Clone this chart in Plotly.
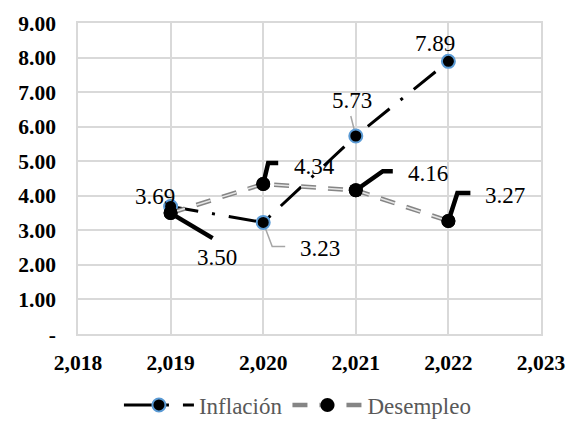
import plotly.graph_objects as go

# Series
years = [2019, 2020, 2021, 2022]
inflacion = [3.69, 3.23, 5.73, 7.89]
desempleo = [3.50, 4.34, 4.16, 3.27]

# Axis ticks
x_ticks = [2018, 2019, 2020, 2021, 2022, 2023]
y_ticks = [0, 1, 2, 3, 4, 5, 6, 7, 8, 9]
y_ticktext = ["-", "1.00", "2.00", "3.00", "4.00", "5.00", "6.00", "7.00", "8.00", "9.00"]

W, H = 572, 421
M = dict(l=78, r=31, t=23, b=87)
X_RANGE = [2018, 2023]
Y_RANGE = [0, 9]
px_x = (W - M["l"] - M["r"]) / (X_RANGE[1] - X_RANGE[0])
px_y = (H - M["t"] - M["b"]) / (Y_RANGE[1] - Y_RANGE[0])

SERIF = "'Times New Roman', 'Liberation Serif', serif"
GRID = "#D9D9D9"

# Label placement (pixel offsets from each point): (xshift, yshift)
inf_label_off = [(-16, 10), (57, -26), (-4, 36), (-13, 18)]
des_label_off = [(46, -44), (51, 18), (72, 17), (57, 26)]

# Leader line vertices (pixel offsets from each point, y downward); None = no leader
inf_leaders = [None, [(9, 24), (22, 24)], [(-5, -20)], None]
des_leaders = [[(42, 25)], [(5, -21), (15, -21)], [(27, -19), (37, -19)], [(9, -28), (22, -28)]]


def leader_xy(x0, y0, pts):
    xs, ys = [x0], [y0]
    for dx, dy in pts:
        xs.append(x0 + dx / px_x)
        ys.append(y0 - dy / px_y)
    return xs, ys


fig = go.Figure()

# Leader lines
for xv, yv, pts in zip(years, inflacion, inf_leaders):
    if pts:
        lx, ly = leader_xy(xv, yv, pts)
        fig.add_trace(go.Scatter(x=lx, y=ly, mode="lines", showlegend=False, hoverinfo="skip",
                                 line=dict(color="#A6A6A6", width=1.5)))
for xv, yv, pts in zip(years, desempleo, des_leaders):
    if pts:
        lx, ly = leader_xy(xv, yv, pts)
        fig.add_trace(go.Scatter(x=lx, y=ly, mode="lines", showlegend=False, hoverinfo="skip",
                                 line=dict(color="black", width=4.5)))

# Inflación
fig.add_trace(go.Scatter(
    x=years, y=inflacion, name="Inflación", mode="lines+markers",
    line=dict(color="black", width=3, dash="28px,14px,3px,14px"),
    marker=dict(size=13, color="black", line=dict(color="#5B9BD5", width=2)),
))

# Desempleo: gray compound dashed line with black markers
fig.add_trace(go.Scatter(
    x=years, y=desempleo, name="Desempleo", mode="lines+markers",
    line=dict(color="#858585", width=4.5, dash="15px,12px"),
    marker=dict(size=14, color="black"),
))
fig.add_trace(go.Scatter(
    x=years, y=desempleo, mode="lines", showlegend=False, hoverinfo="skip",
    line=dict(color="#E6E6E6", width=1.5, dash="15px,12px"),
))
fig.add_trace(go.Scatter(
    x=years, y=desempleo, mode="markers", showlegend=False, hoverinfo="skip",
    marker=dict(size=14, color="black"),
))

# Data labels
for xv, yv, (dx, dy) in zip(years, inflacion, inf_label_off):
    fig.add_annotation(x=xv, y=yv, text=f"{yv:.2f}", showarrow=False, xshift=dx, yshift=dy,
                       font=dict(family=SERIF, size=23, color="black"))
for xv, yv, (dx, dy) in zip(years, desempleo, des_label_off):
    fig.add_annotation(x=xv, y=yv, text=f"{yv:.2f}", showarrow=False, xshift=dx, yshift=dy,
                       font=dict(family=SERIF, size=23, color="black"))

fig.update_layout(
    width=W, height=H, margin=dict(M, autoexpand=False),
    paper_bgcolor="white", plot_bgcolor="white",
    font=dict(family=SERIF, color="black"),
    showlegend=True,
    legend=dict(orientation="h", x=0.52, xanchor="center", xref="container",
                y=0.038, yanchor="middle", yref="container",
                font=dict(family=SERIF, size=23, color="#595959"),
                itemwidth=70, tracegroupgap=0),
    xaxis=dict(range=X_RANGE, tickvals=x_ticks, tickformat=",d",
               showgrid=True, gridcolor=GRID, gridwidth=1.5,
               showline=True, linecolor=GRID, linewidth=1.5, mirror=True,
               zeroline=False, ticks="", ticklabelstandoff=8,
               tickfont=dict(family=SERIF, size=21.5, color="black", weight="bold")),
    yaxis=dict(range=Y_RANGE, tickvals=y_ticks, ticktext=y_ticktext,
               showgrid=True, gridcolor=GRID, gridwidth=1.5,
               showline=True, linecolor=GRID, linewidth=1.5, mirror=True,
               zeroline=False, ticks="", ticklabelstandoff=16,
               tickfont=dict(family=SERIF, size=21.5, color="black", weight="bold")),
)

fig.write_html("out.html")
